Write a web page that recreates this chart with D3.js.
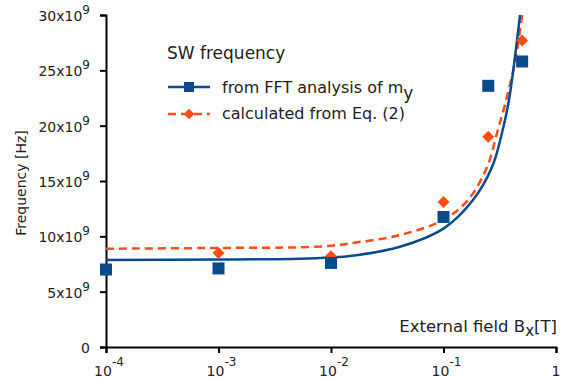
<!DOCTYPE html>
<html><head><meta charset="utf-8">
<script src="https://cdn.jsdelivr.net/npm/d3@7/dist/d3.min.js"></script>
<style>body{margin:0;background:#fff}svg{display:block}text{font-family:"DejaVu Sans",sans-serif;fill:#222}</style>
</head><body><svg id="c" width="584" height="380"></svg>
<script>
// Data (frequency in units of 1e9 Hz, field in T)
const fftField = [1e-4, 1e-3, 1e-2, 0.1, 0.25, 0.5];
const fftFreq  = [7.0, 7.1, 7.6, 11.75, 23.6, 25.8];
const eqField  = [1e-3, 1e-2, 0.1, 0.25, 0.5];
const eqFreq   = [8.5, 8.2, 13.1, 19.0, 27.7];
const fftCurveField = [1e-4, 1e-3, 0.0053, 0.01, 0.0148, 0.041, 0.1, 0.183, 0.27, 0.331, 0.382, 0.428, 0.479];
const fftCurveFreq  = [7.86, 7.9, 7.98, 8.09, 8.22, 9.06, 10.7, 13.28, 16.26, 19.34, 22.32, 25.9, 30.0];
const eqCurveField = [1e-4, 1e-3, 0.0053, 0.01, 0.0148, 0.041, 0.1, 0.165, 0.244, 0.299, 0.36, 0.435, 0.499];
const eqCurveFreq  = [8.88, 8.95, 9.01, 9.15, 9.37, 10.12, 11.5, 13.28, 16.26, 19.34, 22.3, 25.9, 30.0];
const yTicks = [0, 5, 10, 15, 20, 25, 30];
const xTicks = [1e-4, 1e-3, 1e-2, 1e-1, 1];
const xTickExp = ["-4", "-3", "-2", "-1", ""];
const legendLabels = ["from FFT analysis of m", "calculated from Eq. (2)"];

const blue = "#0b4a8c", orange = "#ff4d17";
const svg = d3.select("#c");
const x = d3.scaleLog().domain([1e-4, 1]).range([106, 556]);
const y = d3.scaleLinear().domain([0, 30]).range([347, 15]);

// axes
const yAxis = svg.append("g").attr("transform", "translate(106,0)")
  .call(d3.axisLeft(y).tickValues(yTicks).tickSize(6).tickFormat(""));
const xAxis = svg.append("g").attr("transform", "translate(0,347)")
  .call(d3.axisBottom(x).tickValues(xTicks).tickSize(6).tickFormat(""));
[yAxis, xAxis].forEach(a => { a.selectAll("path,line").attr("stroke", "#000").attr("stroke-width", 2); });

// y tick labels
yTicks.forEach(v => {
  const t = svg.append("text").attr("x", 90).attr("y", y(v) + 6).attr("text-anchor", "end").attr("font-size", 14);
  if (v === 0) { t.text("0"); }
  else {
    t.append("tspan").text(v + "x10");
    t.append("tspan").attr("dy", -7).attr("font-size", 12).text("9");
  }
});
// x tick labels
xTicks.forEach((v, i) => {
  const t = svg.append("text").attr("x", x(v) + (i === 4 ? 0 : 3)).attr("y", 376).attr("text-anchor", "middle").attr("font-size", 14);
  if (v === 1) { t.text("1"); }
  else {
    t.append("tspan").text("10");
    t.append("tspan").attr("dy", -10).attr("font-size", 12).text(xTickExp[i]);
  }
});

// axis titles
svg.append("text").attr("transform", "translate(26,183) rotate(-90)").attr("text-anchor", "middle")
  .attr("font-size", 14).text("Frequency [Hz]");
const xt = svg.append("text").attr("x", 557).attr("y", 332).attr("text-anchor", "end").attr("font-size", 16.5);
xt.append("tspan").text("External field B");
xt.append("tspan").attr("dy", 4).attr("font-size", 15).text("x");
xt.append("tspan").attr("dy", -4).text("[T]");

// curves
const line = d3.line().x(d => x(d[0])).y(d => y(d[1])).curve(d3.curveCatmullRom.alpha(0.5));
svg.append("path").datum(d3.zip(eqCurveField, eqCurveFreq)).attr("d", line)
  .attr("fill", "none").attr("stroke", orange).attr("stroke-width", 2.5).attr("stroke-dasharray", "8,5");
svg.append("path").datum(d3.zip(fftCurveField, fftCurveFreq)).attr("d", line)
  .attr("fill", "none").attr("stroke", blue).attr("stroke-width", 2.5);

// markers
const diamond = d3.symbol().type(d3.symbolSquare).size(72);
svg.selectAll(".dia").data(d3.zip(eqField, eqFreq)).join("path")
  .attr("d", diamond).attr("fill", orange)
  .attr("transform", d => `translate(${x(d[0])},${y(d[1])}) rotate(45)`);
svg.selectAll(".sq").data(d3.zip(fftField, fftFreq)).join("rect")
  .attr("x", d => x(d[0]) - 6).attr("y", d => y(d[1]) - 6).attr("width", 12).attr("height", 12).attr("fill", blue);

// legend
svg.append("text").attr("x", 167).attr("y", 59).attr("font-size", 17).text("SW frequency");
svg.append("line").attr("x1", 168).attr("x2", 210).attr("y1", 87).attr("y2", 87).attr("stroke", blue).attr("stroke-width", 2.5);
svg.append("rect").attr("x", 184).attr("y", 82).attr("width", 10).attr("height", 10).attr("fill", blue);
const l1 = svg.append("text").attr("x", 222).attr("y", 93).attr("font-size", 16);
l1.append("tspan").text(legendLabels[0]);
l1.append("tspan").attr("dy", 6).attr("font-size", 17).text("y");
svg.append("line").attr("x1", 168).attr("x2", 210).attr("y1", 114).attr("y2", 114).attr("stroke", orange).attr("stroke-width", 2.5).attr("stroke-dasharray", "8,5");
svg.append("path").attr("d", d3.symbol().type(d3.symbolSquare).size(56)).attr("fill", orange)
  .attr("transform", "translate(189,114) rotate(45)");
svg.append("text").attr("x", 222).attr("y", 119).attr("font-size", 16).text(legendLabels[1]);
</script></body></html>
